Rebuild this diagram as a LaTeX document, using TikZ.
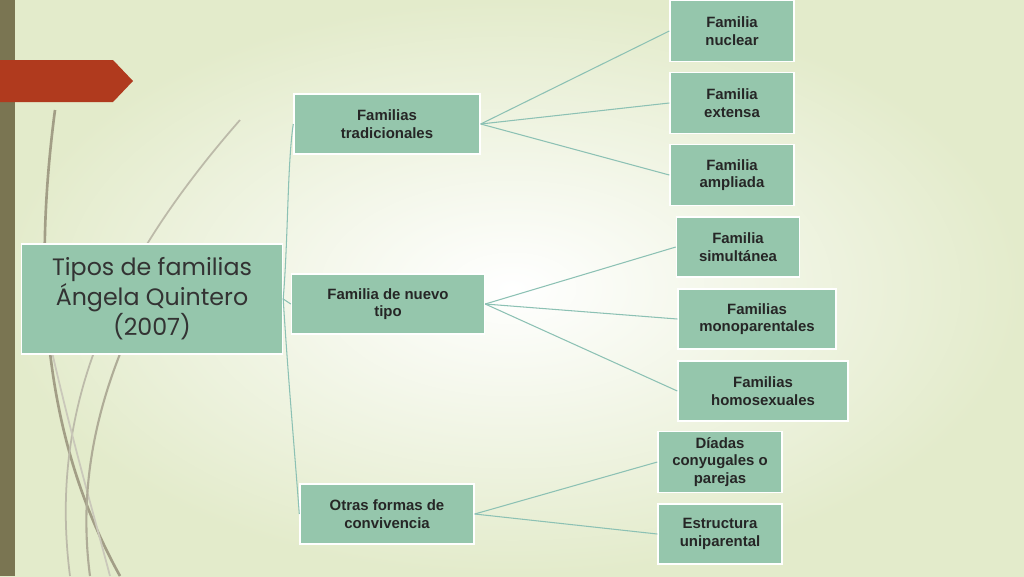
\documentclass[tikz,border=0pt]{standalone}
\usepackage{fontspec}
\setmainfont{Liberation Sans}
\newfontfamily\rootfont{Poppins}
\begin{document}
\begin{tikzpicture}[x=0.02cm,y=-0.02cm,
  box/.style={fill=boxg, draw=white, line width=0.8pt, align=center, inner sep=1pt,
    font=\fontsize{8.5}{10}\selectfont\bfseries, text=black!85},
  link/.style={draw=linkc, line width=0.6pt}]
\definecolor{boxg}{HTML}{95C6AC}
\definecolor{linkc}{HTML}{8CC1B4}
\definecolor{bgc}{HTML}{E3EBCB}
\definecolor{barc}{HTML}{7A7552}
\definecolor{redc}{HTML}{B03A1E}
\useasboundingbox (0,0) rectangle (1024,576);
\shade[inner color=white, outer color=bgc] (0,0) rectangle (1024,576);
\fill[barc] (0,0) rectangle (15,576);
\fill[redc] (0,60) -- (113,60) -- (133,81) -- (113,102) -- (0,102) -- cycle;
% decorative strokes
\draw[barc!70, line width=1.5pt] (55,110) .. controls (30,300) and (50,450) .. (120,576);
\draw[barc!50, line width=1pt] (240,120) .. controls (100,280) and (50,420) .. (70,576);
\draw[barc!40, line width=1pt] (30,250) .. controls (60,400) and (90,500) .. (110,576);
\draw[barc!60, line width=1.2pt] (130,330) .. controls (90,420) and (80,500) .. (90,576);
% nodes
\node[box, minimum width=261*0.02cm, minimum height=110*0.02cm, text=black!80,
  font=\rootfont\fontsize{13.5}{16}\selectfont] (root) at (152,299) {Tipos de familias\\Ángela Quintero\\(2007)};
\node[box, minimum width=186*0.02cm, minimum height=60*0.02cm] (trad) at (387,124) {Familias\\tradicionales};
\node[box, minimum width=193*0.02cm, minimum height=60*0.02cm] (nuevo) at (388,304) {Familia de nuevo\\tipo};
\node[box, minimum width=174*0.02cm, minimum height=60*0.02cm] (otras) at (387,514) {Otras formas de\\convivencia};
\node[box, minimum width=124*0.02cm, minimum height=61*0.02cm] (nuc) at (732,31) {Familia\\nuclear};
\node[box, minimum width=124*0.02cm, minimum height=61*0.02cm] (ext) at (732,103) {Familia\\extensa};
\node[box, minimum width=124*0.02cm, minimum height=61*0.02cm] (amp) at (732,175) {Familia\\ampliada};
\node[box, minimum width=123*0.02cm, minimum height=60*0.02cm] (sim) at (738,247) {Familia\\simultánea};
\node[box, minimum width=158*0.02cm, minimum height=60*0.02cm] (mono) at (757,319) {Familias\\monoparentales};
\node[box, minimum width=170*0.02cm, minimum height=60*0.02cm] (homo) at (763,391) {Familias\\homosexuales};
\node[box, minimum width=124*0.02cm, minimum height=61*0.02cm] (dia) at (720,462) {Díadas\\conyugales o\\parejas};
\node[box, minimum width=124*0.02cm, minimum height=60*0.02cm] (uni) at (720,534) {Estructura\\uniparental};
% connectors
\draw[link] (root.east) .. controls +(5,-60) and +(-6,40) .. (trad.west);
\draw[link] (root.east) -- (nuevo.west);
\draw[link] (root.east) .. controls +(5,80) and +(-6,-80) .. (otras.west);
\foreach \c in {nuc,ext,amp} \draw[link] (trad.east) -- (\c.west);
\foreach \c in {sim,mono,homo} \draw[link] (nuevo.east) -- (\c.west);
\foreach \c in {dia,uni} \draw[link] (otras.east) -- (\c.west);
\end{tikzpicture}
\end{document}
